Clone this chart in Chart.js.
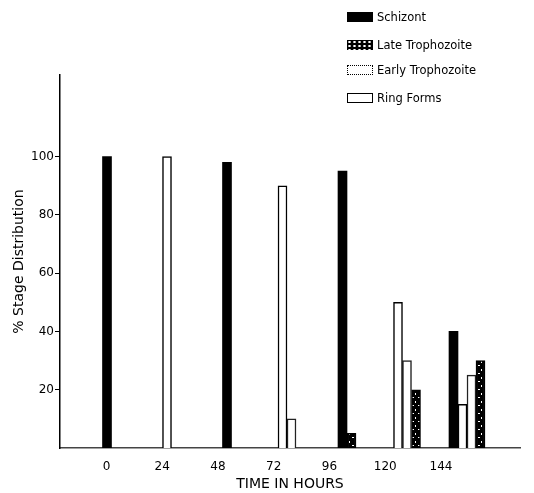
<!DOCTYPE html>
<html>
<head>
<meta charset="utf-8">
<script src="https://cdn.jsdelivr.net/npm/chart.js@4"></script>
<style>
  html, body { margin: 0; padding: 0; background: #fff; }
  #wrap { position: relative; width: 534px; height: 493px; }
  #legend { position: absolute; left: 347px; top: 0; font-family: 'DejaVu Sans', sans-serif; font-size: 11.5px; color: #000; }
  .item { position: absolute; left: 0; display: flex; align-items: center; white-space: nowrap; }
  .box { width: 26px; height: 10px; margin-right: 4px; box-sizing: border-box; }
</style>
</head>
<body>
<div id="wrap">
  <canvas id="chart" width="534" height="493"></canvas>
  <div id="legend"></div>
</div>
<script>
// ==================== DATA ====================
const hours = [0, 24, 48, 72, 96, 120, 144];
const seriesNames = ['Schizont', 'Late Trophozoite', 'Early Trophozoite', 'Ring Forms'];
const schizont   = [100, null, 98, null, 95, null, 40];
const lateTroph  = [null, null, null, null, 5, 20, 30];
const earlyTroph = [null, null, null, 10, null, 30, 25];
const ringForms  = [null, 100, null, 90, null, 50, 15];
const yTicks = [20, 40, 60, 80, 100];

// black with white speckles, like the hand shading in the figure
function speckle() {
    const c = document.createElement('canvas');
    c.width = 6; c.height = 8;
    const g = c.getContext('2d');
    g.fillStyle = '#000';
    g.fillRect(0, 0, 6, 8);
    g.fillStyle = '#fff';
    g.fillRect(1, 1, 1, 2);
    g.fillRect(4, 5, 2, 1);
    return g.createPattern(c, 'repeat');
}

const points = arr => hours.map((h, i) => ({ x: h, y: arr[i] }));

// order = slot inside a group (the figure mostly puts rings before trophozoites)
const styles = [
    { bg: '#000', border: '#000', order: 0, css: 'background:#000;' },
    { bg: speckle(), border: '#000', order: 3, css: 'background:#000 radial-gradient(#fff 1px, transparent 1.5px) 0 0/5px 4px;' },
    { bg: '#fff', border: '#222', order: 2, css: 'background:#fff;border:1.5px dotted #000;' },
    { bg: '#fff', border: '#000', order: 1, css: 'background:#fff;border:1.5px solid #000;' }
];
const allData = [schizont, lateTroph, earlyTroph, ringForms];

// ==================== LEGEND ====================
const legendTops = [10, 38, 63, 91];
const legend = document.getElementById('legend');
seriesNames.forEach((name, i) => {
    const el = document.createElement('div');
    el.className = 'item';
    el.style.top = legendTops[i] + 'px';
    el.innerHTML = `<span class="box" style="${styles[i].css}"></span><span>${name}</span>`;
    legend.appendChild(el);
});

// ==================== BAR CHART ====================
const tickFont = { family: 'DejaVu Sans', size: 12 };
const ctx = document.getElementById('chart').getContext('2d');
new Chart(ctx, {
    type: 'bar',
    data: {
        datasets: allData.map((arr, i) => ({
            label: seriesNames[i],
            data: points(arr),
            xAxisID: 'xBars',
            order: styles[i].order,
            backgroundColor: styles[i].bg,
            borderColor: styles[i].border,
            borderWidth: i === 0 ? 0 : 1.5,
            barThickness: 9,
            skipNull: true
        }))
    },
    options: {
        responsive: false,
        animation: false,
        layout: { padding: { top: 75, right: 14, left: 0, bottom: 0 } },
        plugins: {
            legend: { display: false },
            tooltip: { enabled: false }
        },
        scales: {
            // hidden scale the bars sit on: in the drawing the groups drift right of their labels
            xBars: {
                type: 'linear',
                display: false,
                min: -18.8,
                max: 165.2,
                offset: false
            },
            x: {
                type: 'linear',
                position: 'bottom',
                min: -20,
                max: 178,
                offset: false,
                afterBuildTicks: axis => { axis.ticks = hours.map(v => ({ value: v })); },
                afterFit: axis => { axis.height = 45; },
                grid: { display: false },
                border: { color: '#444', width: 1.5 },
                ticks: { color: '#000', padding: 4, font: tickFont },
                title: { display: true, text: 'TIME IN HOURS', color: '#000', padding: 0, font: { family: 'DejaVu Sans', size: 14 } }
            },
            y: {
                min: 0,
                max: 128,
                afterBuildTicks: axis => { axis.ticks = yTicks.map(v => ({ value: v })); },
                afterFit: axis => { axis.width = 60; },
                grid: { drawOnChartArea: false, drawTicks: true, tickLength: 5, color: '#000' },
                border: { color: '#000', width: 1.5 },
                ticks: { color: '#000', padding: 1, font: tickFont },
                title: { display: true, text: '% Stage Distribution', color: '#000', padding: 11, font: { family: 'DejaVu Sans', size: 14 } }
            }
        }
    }
});
</script>
</body>
</html>
